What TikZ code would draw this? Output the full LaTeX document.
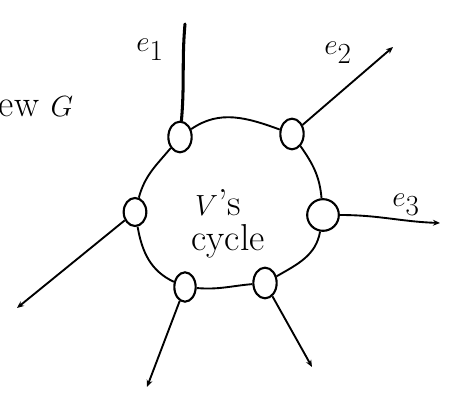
\documentclass[tikz,border=0pt]{standalone}
\usetikzlibrary{shapes.geometric,arrows.meta}
\begin{document}
\begin{tikzpicture}[x=0.03cm, y=-0.03cm, line width=1.6pt,
  every node/.style={font=\fontsize{32}{34}\selectfont},
  vnode/.style={ellipse, draw, line width=1.8pt, inner sep=0pt, minimum width=0.70cm, minimum height=0.92cm},
  ring/.style={line width=1.6pt},
  elabel/.style={font=\fontsize{38}{40}\selectfont},
  outedge/.style={line width=1.6pt, -{Stealth[length=6pt, width=5pt]}}]
  \useasboundingbox (0,0) rectangle (454,405);
  % vertices of the cycle, clockwise from the top left
  \node[vnode] (v1) at (180,137) {};
  \node[vnode] (v2) at (292,134) {};
  \node[vnode, minimum width=0.95cm, minimum height=0.95cm] (v3) at (323,215) {};
  \node[vnode] (v4) at (265,283) {};
  \node[vnode, minimum width=0.64cm, minimum height=0.88cm] (v5) at (185,287) {};
  \node[vnode, minimum width=0.68cm, minimum height=0.84cm] (v6) at (135,212) {};
  % the cycle itself
  \draw[ring] (v1) to[out=35, in=160] (v2);
  \draw[ring] (v2) to[out=-55, in=95] (v3);
  \draw[ring] (v3) to[out=-100, in=30] (v4);
  \draw[ring] (v4) to[out=185, in=-5] (v5);
  \draw[ring] (v5) to[out=155, in=-80] (v6);
  \draw[ring] (v6) to[out=75, in=-130] (v1);
  % loose ends of the edges leaving the cycle
  \coordinate (t1) at (185,24);
  \coordinate (t2) at (393,47);
  \coordinate (t3) at (440,223);
  \coordinate (t4) at (312,367);
  \coordinate (t5) at (147,387);
  \coordinate (t6) at (17,308);
  \draw[line width=2.6pt, line cap=round] (v1) to[out=85, in=-95] (t1);
  \draw[outedge] (v2) -- (t2);
  \draw[outedge] (v3) to[out=0, in=178] (t3);
  \draw[outedge] (v4) -- (t4);
  \draw[outedge] (v5) -- (t5);
  \draw[outedge] (v6) -- (t6);
  % labels
  \node[elabel] (l1) at (150,50) {$e_1$};
  \node[elabel] (l2) at (338,53) {$e_2$};
  \node[elabel] (l3) at (406,205) {$e_3$};
  \node[anchor=west, inner sep=0pt] (lg) at (-2,107) {ew $G$};
  \node[inner sep=0pt] (lv) at (218,203) {$V$'s};
  \node[inner sep=0pt] (lc) at (228,241) {cycle};
\end{tikzpicture}
\end{document}
